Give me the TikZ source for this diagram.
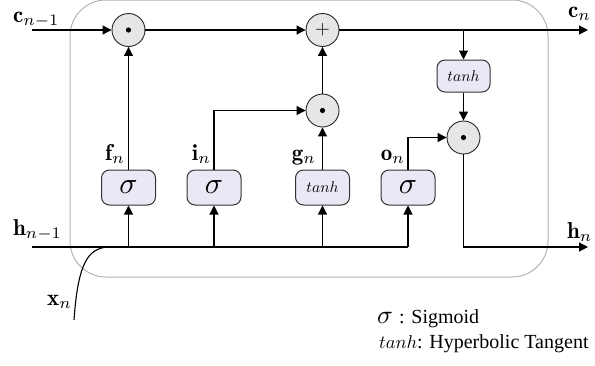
\documentclass[tikz,border=0pt]{standalone}
\usepackage{graphicx}
\usepackage{fontspec}
\newfontfamily\legendfont{Liberation Serif}
\usetikzlibrary{arrows.meta}
\definecolor{lav}{HTML}{ECE7F4}
\definecolor{opgray}{HTML}{E6E6E6}
\definecolor{framegray}{HTML}{B4B4B4}
\newcommand{\sclmath}[2]{\scalebox{#1}{$#2$}}
\begin{document}
\begin{tikzpicture}[x=1pt,y=-1pt,
  wire/.style={draw=black, line width=1.1pt},
  conn/.style={draw=black, line width=1.1pt, -{Triangle[length=9pt,width=9pt]}},
  opcirc/.style={circle, draw=black!85, fill=opgray, line width=0.9pt, minimum size=33pt, inner sep=0pt},
  gatebox/.style={rounded corners=8pt, draw=black!80, fill=lav, line width=1pt, minimum width=54pt, minimum height=35pt, inner sep=0pt},
  lbl/.style={inner sep=0pt},
  legtext/.style={font=\legendfont\fontsize{20}{24}\selectfont, inner sep=0pt, anchor=base west}]
\useasboundingbox (0,0) rectangle (595,365);
% frame
\draw[framegray, line width=1pt, rounded corners=36pt] (70,0) rectangle (548,277);
% operation nodes
\node[opcirc] (mf) at (128.5,30) {};
\fill (mf.center) circle (2.6);
\node[opcirc] (add) at (322.5,30) {\sclmath{1.9}{+}};
\node[opcirc] (mi) at (322.5,110.5) {};
\fill (mi.center) circle (2.6);
\node[opcirc] (mo) at (463.5,137.5) {};
\fill (mo.center) circle (2.6);
% gate boxes
\node[gatebox, minimum width=53pt, minimum height=32pt] (tc) at (463.5,76) {\sclmath{1.55}{tanh}};
\node[gatebox] (sf) at (128.5,187.5) {\sclmath{3}{\sigma}};
\node[gatebox] (si) at (214,187.5) {\sclmath{3}{\sigma}};
\node[gatebox] (tg) at (322.5,187.5) {\sclmath{1.55}{tanh}};
\node[gatebox] (so) at (408,187.5) {\sclmath{3}{\sigma}};
% free ends
\coordinate (cin) at (32,30);
\coordinate (hin) at (32,247);
\coordinate (cout) at (588,30);
\coordinate (hout) at (588,247);
\coordinate (xin) at (74,320);
\coordinate (xj) at (107,247);
% cell state path
\draw[conn] (cin) -- (mf);
\draw[conn] (mf) -- (add);
\draw[conn] (add) -- (cout);
\draw[conn] (tc |- add) -- (tc);
\draw[conn] (tc) -- (mo);
% gates
\draw[conn] (sf) -- (mf);
\draw[conn] (si.north) |- (mi);
\draw[conn] (tg) -- (mi);
\draw[conn] (mi) -- (add);
\draw[conn] (so.north) |- (mo);
\draw[conn] (mo) |- (hout);
% input line
\draw[wire] (hin) -- (so |- hin);
\draw[conn] (sf |- hin) -- (sf);
\draw[conn] (si |- hin) -- (si);
\draw[conn] (tg |- hin) -- (tg);
\draw[conn] (so |- hin) -- (so);
\draw[wire] (xin) .. controls (78,263) and (88,249) .. (xj);
% labels
\node[lbl, anchor=base west] (lc) at (13,22) {\sclmath{2.3}{\mathbf{c}_{n-1}}};
\node[lbl, anchor=base west] (lh) at (13,235) {\sclmath{2.3}{\mathbf{h}_{n-1}}};
\node[lbl, anchor=base west] (lcn) at (568,17) {\sclmath{2.3}{\mathbf{c}_n}};
\node[lbl, anchor=base west] (lhn) at (567,238) {\sclmath{2.3}{\mathbf{h}_n}};
\node[lbl, anchor=base west] (lx) at (47,305) {\sclmath{2.3}{\mathbf{x}_n}};
\node[lbl, anchor=base east] (lf) at (125,160) {\sclmath{2.3}{\mathbf{f}_n}};
\node[lbl, anchor=base east] (li) at (211,160) {\sclmath{2.3}{\mathbf{i}_n}};
\node[lbl, anchor=base east] (lg) at (316,160) {\sclmath{2.3}{\mathbf{g}_n}};
\node[lbl, anchor=base east] (lo) at (405,160) {\sclmath{2.3}{\mathbf{o}_n}};
% legend
\node[lbl, anchor=base west] (ls) at (377,323) {\sclmath{2.6}{\sigma}};
\node[legtext] (lst) at (399,323) {: Sigmoid};
\node[lbl, anchor=base west] (lt) at (379,348) {\sclmath{1.85}{tanh}};
\node[legtext] (ltt) at (417,348) {: Hyperbolic Tangent};
\end{tikzpicture}
\end{document}
